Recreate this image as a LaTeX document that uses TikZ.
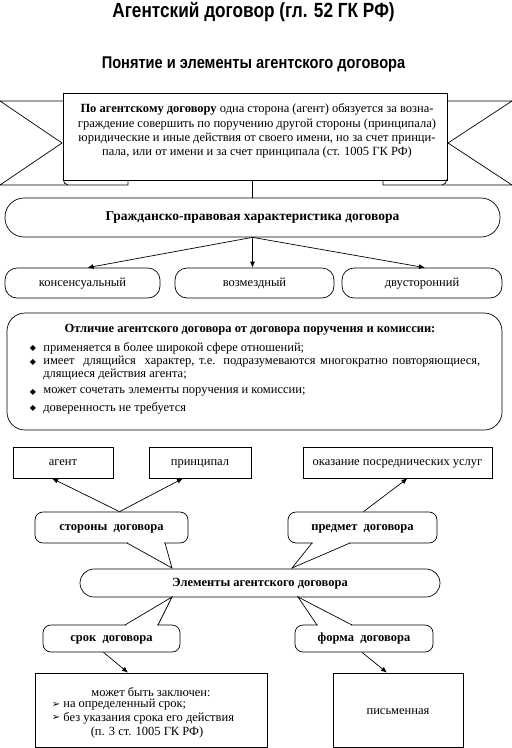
\documentclass[tikz,border=0pt]{standalone}
\usepackage{fontspec}
\setmainfont{Liberation Serif}
\newfontfamily\titlefont[FakeStretch=0.84]{Liberation Sans}
\newfontfamily\subtitlefont[FakeStretch=0.86]{Liberation Sans}
\newfontfamily\symfont{DejaVu Sans}
\usetikzlibrary{arrows.meta,calc}
\begin{document}
\begin{tikzpicture}[x=1pt,y=-1pt,line width=0.7pt,
  txt/.style={font=\fontsize{12.5}{14}\selectfont,inner sep=0pt},
  btxt/.style={font=\bfseries\fontsize{12.5}{14}\selectfont,inner sep=0pt},
  rbox/.style={draw,inner sep=0pt,text height=9pt,text depth=3pt},
  sbox/.style={draw,inner sep=0pt,text height=9pt,text depth=3pt,font=\fontsize{12.5}{14}\selectfont},
  callout/.style={draw,fill=white,rounded corners=8pt,inner sep=0pt,text height=9pt,text depth=3pt,font=\bfseries\fontsize{12.5}{14}\selectfont},
  arr/.style={-{Latex[length=6pt,width=5pt]}},
  dia/.style={inner sep=0pt,font=\symfont\fontsize{8}{8}\selectfont},
  tri/.style={inner sep=0pt,font=\symfont\fontsize{10}{10}\selectfont}]
\useasboundingbox (0,0) rectangle (512,748);
% titles
\node[font=\titlefont\bfseries\fontsize{20.5}{22}\selectfont,inner sep=0pt] (title) at (253.5,12) {Агентский договор (гл. 52 ГК РФ)};
\node[font=\subtitlefont\bfseries\fontsize{17}{19}\selectfont,inner sep=0pt] (subtitle) at (253.5,64) {Понятие и элементы агентского договора};
% banner tails
\draw (63,101) -- (0,101) -- (62,143) -- (0,185) -- (128,185) -- (128,180);
\draw (447,101) -- (512,101) -- (448,143) -- (512,185) -- (383,185) -- (383,180);
\node[draw,fill=white,minimum width=384pt,minimum height=87pt,inner sep=0pt] (banner) at (255,136.5) {};
\draw (63,179) to[out=-80,in=180] (68,185);
\draw (447,179) to[out=-100,in=0] (442,185);
\node[txt,font=\fontsize{12.5}{14.2}\selectfont,align=center] (bantext) at (257,131) {\textbf{По агентскому договору} одна сторона (агент) обязуется за возна-\\граждение совершить по поручению другой стороны (принципала)\\юридические и иные действия от своего имени, но за счет принци-\\пала, или от имени и за счет принципала (ст. 1005 ГК РФ)};
% characteristic
\node[rbox,rounded corners=19pt,minimum width=495pt,minimum height=39pt,btxt,font=\bfseries\fontsize{13.5}{14}\selectfont] (gpx) at (252.5,217.5) {Гражданско-правовая характеристика договора};
\draw (banner.south -| gpx.north) -- (gpx.north);
\node[rbox,rounded corners=12pt,minimum width=155pt,minimum height=30pt,txt] (kons) at (82.5,283) {консенсуальный};
\node[rbox,rounded corners=12pt,minimum width=159pt,minimum height=30pt,txt] (vozm) at (254.5,283) {возмездный};
\node[rbox,rounded corners=12pt,minimum width=160pt,minimum height=30pt,txt] (dvus) at (422,283) {двусторонний};
\draw[arr] (gpx.south) -- ([xshift=5pt]kons.north);
\draw[arr] (gpx.south) -- (gpx.south |- vozm.north);
\draw[arr] (gpx.south) -- ([xshift=3pt]dvus.north);
% differences box
\node[rbox,rounded corners=18pt,minimum width=495pt,minimum height=117pt] (diff) at (254.5,371.5) {};
\node[btxt] (diffh) at (250,330) {Отличие агентского договора от договора поручения и комиссии:};
\node[dia] (d1) at (33,348) {◆};
\node[txt,anchor=west] (l1) at (43,348) {применяется в более широкой сфере отношений;};
\node[dia] (d2) at (33,362) {◆};
\node[txt,anchor=west] (l2) at (43,362) {\makebox[437pt][s]{имеет \ длящийся \ характер, т.е. подразумеваются многократно повторяющиеся,}};
\node[txt,anchor=west] (l3) at (43,375) {длящиеся действия агента;};
\node[dia] (d4) at (33,392) {◆};
\node[txt,anchor=west] (l4) at (43,392) {может сочетать элементы поручения и комиссии;};
\node[dia] (d5) at (33,408) {◆};
\node[txt,anchor=west] (l5) at (43,408) {доверенность не требуется};
% elements
\node[sbox,minimum width=100pt,minimum height=31pt] (agent) at (63,462.5) {агент};
\node[sbox,minimum width=102pt,minimum height=31pt] (princ) at (200,462.5) {принципал};
\node[sbox,minimum width=189pt,minimum height=31pt] (usl) at (397.5,462.5) {оказание посреднических услуг};
\node[rbox,rounded corners=14pt,minimum width=360pt,minimum height=28pt,btxt] (elem) at (260,583) {Элементы агентского договора};
% callouts
\node[callout,minimum width=153pt,minimum height=31pt] (storony) at (111.5,527.5) {стороны \ договора};
\fill[white] (128,541) rectangle (164,545.5);
\draw (127,543) -- (172,568) -- (165,543);
\node[callout,minimum width=149pt,minimum height=31pt] (predmet) at (362.5,527.5) {предмет \ договора};
\fill[white] (313,541) rectangle (349,545.5);
\draw (312,543) -- (292,568) -- (350,543);
\node[callout,minimum width=137pt,minimum height=27pt] (srok) at (111.5,638.5) {срок \ договора};
\fill[white] (126,622.5) rectangle (157,627);
\draw (125,625) -- (172,597) -- (158,625);
\node[callout,minimum width=138pt,minimum height=27pt] (forma) at (364,638.5) {форма \ договора};
\fill[white] (318,622.5) rectangle (351,627);
\draw (317,625) -- (298,597) -- (352,625);
% arrows
\draw[arr] ([xshift=8pt]storony.north) -- ([xshift=-11pt]agent.south);
\draw[arr] ([xshift=8pt]storony.north) -- ([xshift=-17pt]princ.south);
\draw[arr] ([xshift=1pt]predmet.north) -- ([xshift=10pt]usl.south);
% bottom boxes
\node[sbox,minimum width=232pt,minimum height=74pt] (srokbox) at (151,710) {};
\node[txt] (s1) at (151,692) {может быть заключен:};
\node[tri] (t1) at (56,705) {➢};
\node[txt,anchor=west] (s2) at (63,705) {на определенный срок;};
\node[tri] (t2) at (56,718) {➢};
\node[txt,anchor=west] (s3) at (63,718) {без указания срока его действия};
\node[txt] (s4) at (147,732) {(п. 3 ст. 1005 ГК РФ)};
\node[sbox,minimum width=130pt,minimum height=74pt] (pis) at (398,710) {};
\node[txt] (pistext) at (398,712) {письменная};
\draw[arr] ([xshift=-8pt]srok.south) -- ([xshift=-23pt]srokbox.north);
\draw[arr] ([xshift=-2pt]forma.south) -- ([xshift=-11pt]pis.north);
\end{tikzpicture}
\end{document}
